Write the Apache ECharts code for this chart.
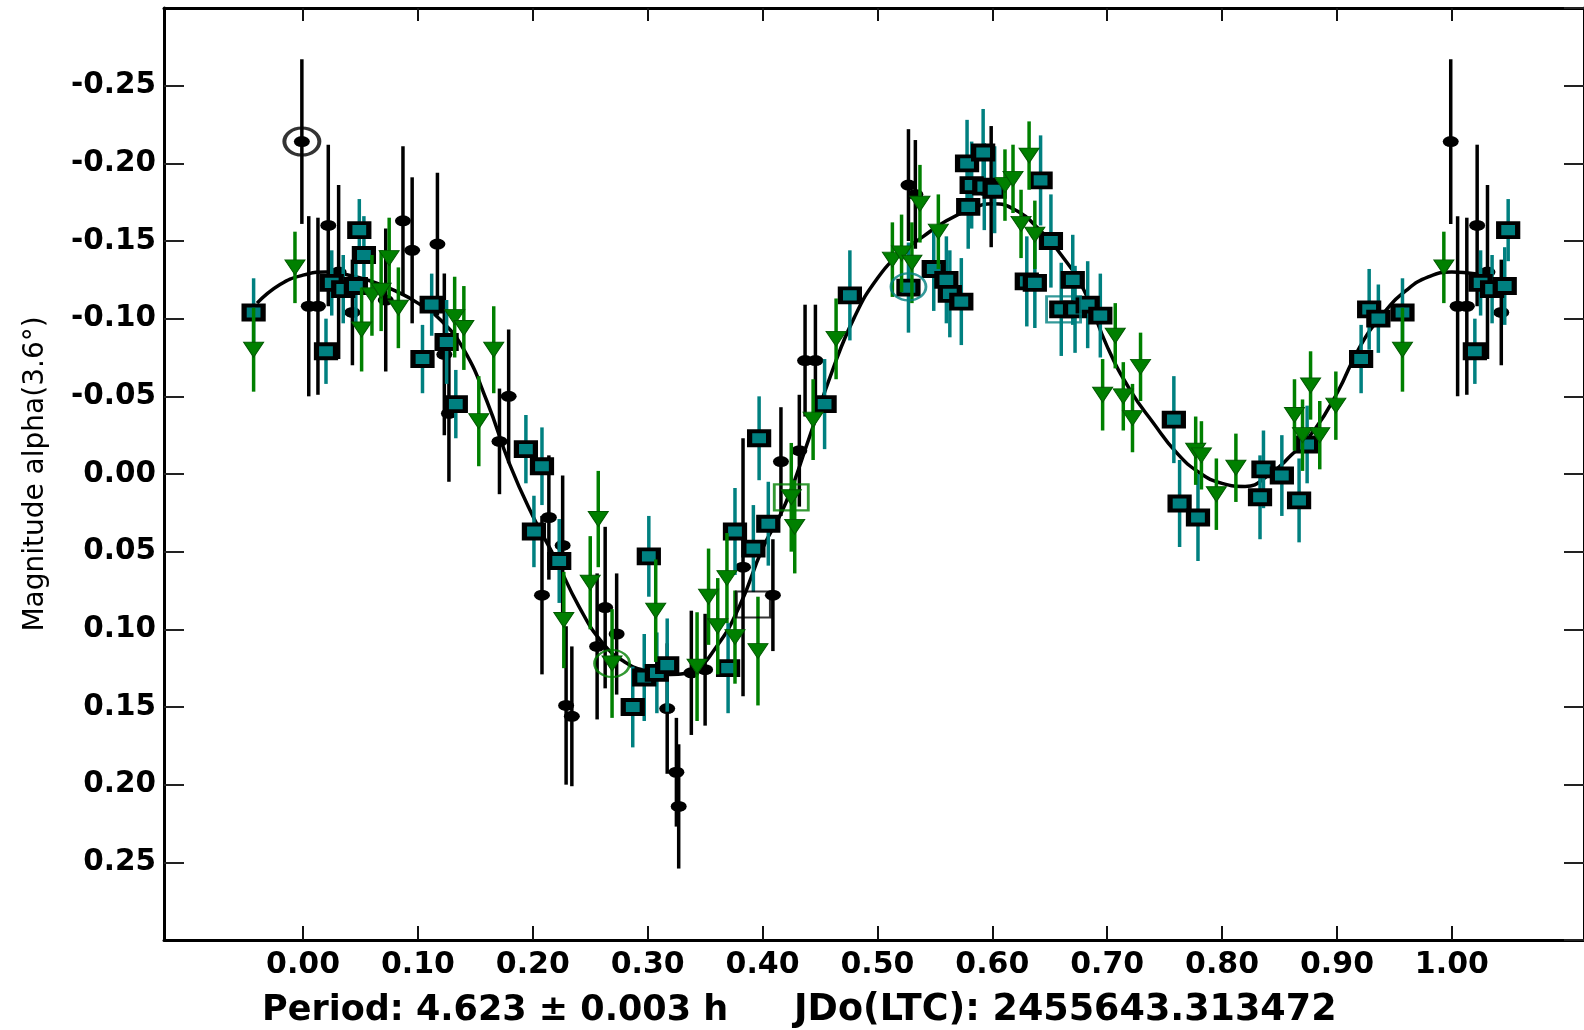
<!DOCTYPE html>
<html>
<head>
<meta charset="utf-8">
<script src="https://cdn.jsdelivr.net/npm/echarts@6/dist/echarts.min.js"></script>
<style>
html,body{margin:0;padding:0;background:#fff;}
#chart{width:1584px;height:1030px;}
</style>
</head>
<body>
<div id="chart"></div>
<script>
// ---------- DATA ----------
const xTickValues = [0.0, 0.1, 0.2, 0.3, 0.4, 0.5, 0.6, 0.7, 0.8, 0.9, 1.0];

// Session 1 (black dots): phase, magnitude, error
const blackPhase = [0.999, 0.005, 0.013, 0.022, 0.031, 0.043, 0.072, 0.087, 0.095, 0.117, 0.123, 0.127, 0.171, 0.179, 0.208, 0.214, 0.226, 0.229, 0.234, 0.256, 0.263, 0.273, 0.317, 0.325, 0.327, 0.338, 0.350, 0.383, 0.409, 0.416, 0.432, 0.437, 0.446, 0.527, 0.533, 0.599];
const blackMag   = [-0.214, -0.108, -0.108, -0.160, -0.130, -0.104, -0.112, -0.163, -0.144, -0.148, -0.077, -0.039, -0.021, -0.050, 0.078, 0.028, 0.046, 0.149, 0.156, 0.111, 0.086, 0.103, 0.151, 0.192, 0.214, 0.128, 0.126, 0.060, 0.078, -0.008, -0.015, -0.073, -0.073, -0.186, -0.180, -0.185];
const blackErr   = [0.053, 0.058, 0.057, 0.052, 0.056, 0.034, 0.046, 0.048, 0.047, 0.046, 0.052, 0.044, 0.034, 0.043, 0.051, 0.040, 0.045, 0.051, 0.045, 0.047, 0.052, 0.039, 0.042, 0.035, 0.040, 0.040, 0.036, 0.083, 0.036, 0.035, 0.036, 0.036, 0.036, 0.036, 0.035, 0.039];

// Session 2 (teal squares)
const tealPhase = [0.957, 0.020, 0.025, 0.035, 0.046, 0.049, 0.053, 0.104, 0.112, 0.125, 0.133, 0.194, 0.201, 0.208, 0.223, 0.287, 0.297, 0.301, 0.308, 0.317, 0.370, 0.376, 0.392, 0.397, 0.405, 0.454, 0.476, 0.527, 0.549, 0.560, 0.563, 0.573, 0.578, 0.579, 0.582, 0.592, 0.593, 0.602, 0.630, 0.637, 0.642, 0.651, 0.660, 0.670, 0.672, 0.683, 0.694, 0.758, 0.763, 0.779, 0.833, 0.836, 0.852, 0.867, 0.874, 0.921, 0.928, 0.936];
const tealMag   = [-0.104, -0.079, -0.123, -0.119, -0.121, -0.157, -0.141, -0.074, -0.109, -0.085, -0.045, -0.016, 0.037, -0.005, 0.056, 0.150, 0.131, 0.053, 0.128, 0.123, 0.125, 0.037, 0.048, -0.023, 0.032, -0.045, -0.115, -0.120, -0.132, -0.125, -0.116, -0.111, -0.200, -0.172, -0.186, -0.207, -0.185, -0.183, -0.124, -0.123, -0.189, -0.150, -0.106, -0.125, -0.106, -0.109, -0.102, -0.035, 0.019, 0.028, 0.015, -0.003, 0.001, 0.017, -0.019, -0.074, -0.106, -0.100];
const tealErr   = [0.022, 0.021, 0.021, 0.022, 0.025, 0.020, 0.025, 0.022, 0.020, 0.027, 0.022, 0.022, 0.023, 0.025, 0.027, 0.026, 0.028, 0.026, 0.026, 0.030, 0.029, 0.028, 0.028, 0.027, 0.027, 0.029, 0.029, 0.029, 0.027, 0.028, 0.028, 0.028, 0.028, 0.027, 0.028, 0.028, 0.028, 0.028, 0.029, 0.029, 0.029, 0.030, 0.030, 0.029, 0.028, 0.028, 0.027, 0.028, 0.028, 0.028, 0.027, 0.025, 0.026, 0.027, 0.025, 0.022, 0.026, 0.022];

// Session 3 (green triangles)
const greenPhase = [0.957, 0.993, 0.051, 0.060, 0.068, 0.075, 0.083, 0.132, 0.140, 0.153, 0.166, 0.227, 0.250, 0.257, 0.269, 0.307, 0.343, 0.353, 0.361, 0.369, 0.376, 0.396, 0.425, 0.428, 0.444, 0.464, 0.513, 0.521, 0.530, 0.537, 0.553, 0.611, 0.618, 0.625, 0.632, 0.637, 0.696, 0.707, 0.714, 0.722, 0.729, 0.777, 0.782, 0.795, 0.812, 0.863, 0.870, 0.877, 0.885, 0.899];
const greenMag   = [-0.080, -0.133, -0.093, -0.115, -0.118, -0.139, -0.107, -0.101, -0.094, -0.034, -0.080, 0.094, 0.070, 0.029, 0.122, 0.088, 0.124, 0.079, 0.098, 0.067, 0.105, 0.114, 0.015, 0.034, -0.035, -0.087, -0.138, -0.142, -0.136, -0.174, -0.156, -0.186, -0.190, -0.161, -0.205, -0.154, -0.051, -0.089, -0.050, -0.036, -0.069, -0.015, -0.012, 0.013, -0.004, -0.038, -0.025, -0.057, -0.025, -0.044];
const greenErr   = [0.027, 0.023, 0.027, 0.026, 0.026, 0.026, 0.026, 0.026, 0.027, 0.029, 0.028, 0.031, 0.030, 0.031, 0.035, 0.033, 0.035, 0.031, 0.031, 0.029, 0.030, 0.035, 0.035, 0.030, 0.026, 0.026, 0.024, 0.025, 0.026, 0.025, 0.024, 0.023, 0.022, 0.022, 0.022, 0.022, 0.023, 0.021, 0.022, 0.022, 0.022, 0.022, 0.022, 0.023, 0.022, 0.023, 0.023, 0.022, 0.022, 0.022];

// First point of each observing session (open markers)
const startPhase   = [-0.001, 0.269, 0.392, 0.425, 0.527, 0.662];
const startMag     = [-0.214, 0.122, 0.084, 0.015, -0.1205, -0.106];
const startSession = ['s1', 's2', 's3', 's4', 's5', 's6'];

// Fourier fit curve
const fitPhase = [-0.04, -0.02, 0.00, 0.02, 0.04, 0.06, 0.08, 0.10, 0.12, 0.14, 0.16, 0.18, 0.20, 0.22, 0.24, 0.26, 0.28, 0.30, 0.32, 0.34, 0.36, 0.38, 0.40, 0.42, 0.44, 0.46, 0.48, 0.50, 0.52, 0.54, 0.56, 0.58, 0.60, 0.62, 0.64, 0.66, 0.68, 0.70, 0.72, 0.74, 0.76, 0.78, 0.80, 0.82, 0.84, 0.86, 0.88, 0.90, 0.92, 0.94, 0.96, 0.98, 1.00, 1.02, 1.04];
const fitMag   = [-0.110, -0.122, -0.128, -0.130, -0.128, -0.124, -0.118, -0.110, -0.099, -0.080, -0.047, -0.006, 0.027, 0.055, 0.085, 0.108, 0.121, 0.127, 0.129, 0.126, 0.111, 0.085, 0.048, 0.019, -0.022, -0.065, -0.101, -0.126, -0.142, -0.153, -0.163, -0.170, -0.174, -0.170, -0.158, -0.141, -0.118, -0.082, -0.054, -0.033, -0.014, -0.001, 0.006, 0.008, 0.001, -0.012, -0.028, -0.052, -0.082, -0.103, -0.118, -0.127, -0.130, -0.129, -0.124];

const yAxisName = 'Magnitude alpha(3.6°)';
const periodText = 'Period: 4.623 ± 0.003 h';
const epochText = 'JDo(LTC): 2455643.313472';

// ---------- BUILD ----------
// phased light curve is shown from -0.05 to 1.05: points near the ends repeat
function phased(ph, mg, er) {
  const out = [];
  for (let i = 0; i < ph.length; i++) {
    out.push([ph[i], mg[i], er[i]]);
    if (ph[i] < 0.05) out.push([ph[i] + 1, mg[i], er[i]]);
    if (ph[i] > 0.95) out.push([ph[i] - 1, mg[i], er[i]]);
  }
  return out;
}
const blackData = phased(blackPhase, blackMag, blackErr);
const tealData = phased(tealPhase, tealMag, tealErr);
const greenData = phased(greenPhase, greenMag, greenErr);
const fitData = fitPhase.map((p, i) => [p, fitMag[i]]);

const sessionStyle = {
  s1: { symbol: 'circle', color: '#000000', width: 3.5 },
  s2: { symbol: 'circle', color: '#008000', width: 2.5 },
  s3: { symbol: 'rect', color: '#000000', width: 2.5 },
  s4: { symbol: 'rect', color: '#008000', width: 2.5 },
  s5: { symbol: 'circle', color: '#008080', width: 2.5 },
  s6: { symbol: 'rect', color: '#008080', width: 2.5 }
};
const startData = startPhase.map((p, i) => {
  const st = sessionStyle[startSession[i]];
  return {
    value: [p, startMag[i]],
    symbol: st.symbol,
    symbolSize: st.symbol === 'circle' ? [35, 27] : [34, 26],
    itemStyle: { color: 'rgba(0,0,0,0)', borderColor: st.color, borderWidth: st.width }
  };
});

function errBars(color, width) {
  return function (params, api) {
    const x = api.value(0), y = api.value(1), e = api.value(2);
    const a = api.coord([x, y - e]);
    const b = api.coord([x, y + e]);
    return {
      type: 'line',
      shape: { x1: a[0], y1: a[1], x2: b[0], y2: b[1] },
      style: { stroke: color, lineWidth: width }
    };
  };
}

const FONT = 'DejaVu Sans';
const X_MIN = -0.121, X_MAX = 1.115;

const chart = echarts.init(document.getElementById('chart'));
chart.setOption({
  animation: false,
  backgroundColor: '#ffffff',
  title: [
    { text: periodText, left: 262, top: 993, padding: 0,
      textStyle: { fontFamily: FONT, fontWeight: 'bold', fontSize: 35, color: '#000' } },
    { text: epochText, left: 794, top: 992, padding: 0,
      textStyle: { fontFamily: FONT, fontWeight: 'bold', fontSize: 36.5, color: '#000' } }
  ],
  grid: { left: 164, top: 8, width: 1425, height: 932, containLabel: false },
  xAxis: [
    {
      type: 'value', min: X_MIN, max: X_MAX, position: 'bottom',
      axisLine: { show: true, onZero: false, lineStyle: { color: '#000', width: 3 } },
      axisTick: { show: true, inside: true, length: 14, customValues: xTickValues,
        lineStyle: { color: '#111', width: 2 } },
      axisLabel: { show: true, customValues: xTickValues, margin: 10,
        formatter: v => v.toFixed(2),
        fontFamily: FONT, fontWeight: 'bold', fontSize: 30, color: '#000' },
      splitLine: { show: false }
    },
    {
      type: 'value', min: X_MIN, max: X_MAX, position: 'top',
      axisLine: { show: true, onZero: false, lineStyle: { color: '#000', width: 3 } },
      axisTick: { show: true, inside: true, length: 13, customValues: xTickValues,
        lineStyle: { color: '#111', width: 2 } },
      axisLabel: { show: false },
      splitLine: { show: false }
    }
  ],
  yAxis: [
    {
      type: 'value', min: -0.3, max: 0.3, interval: 0.05, inverse: true, position: 'left',
      axisLine: { show: true, onZero: false, lineStyle: { color: '#000', width: 3 } },
      axisTick: { show: true, inside: true, length: 20, lineStyle: { color: '#222', width: 2 } },
      axisLabel: { show: true, showMinLabel: false, showMaxLabel: false, margin: 8,
        formatter: v => (Math.abs(v) < 1e-9 ? '0.00' : v.toFixed(2)),
        fontFamily: FONT, fontWeight: 'bold', fontSize: 29.5, color: '#000' },
      splitLine: { show: false },
      name: yAxisName, nameLocation: 'middle', nameRotate: 90, nameGap: 114,
      nameTextStyle: { fontFamily: FONT, fontSize: 28, color: '#000' }
    },
    {
      type: 'value', min: -0.3, max: 0.3, interval: 0.05, inverse: true, position: 'right',
      axisLine: { show: true, onZero: false, lineStyle: { color: '#000', width: 3 } },
      axisTick: { show: true, inside: true, length: 20, lineStyle: { color: '#222', width: 2 } },
      axisLabel: { show: false },
      splitLine: { show: false }
    }
  ],
  series: [
    {
      name: 'fit', type: 'line', data: fitData, smooth: true, showSymbol: false,
      lineStyle: { color: '#000', width: 3.5 }, z: 2
    },
    {
      name: 'black err', type: 'custom', data: blackData, renderItem: errBars('#000000', 3.5),
      dimensions: ['x', 'y', 'e'], encode: { x: 0, y: 1 }, z: 3
    },
    {
      name: 'black', type: 'scatter', data: blackData, symbol: 'circle', symbolSize: [16, 11],
      itemStyle: { color: '#000000', opacity: 1 }, z: 3
    },
    {
      name: 'teal err', type: 'custom', data: tealData, renderItem: errBars('#008080', 3.5),
      dimensions: ['x', 'y', 'e'], encode: { x: 0, y: 1 }, z: 4
    },
    {
      name: 'teal', type: 'scatter', data: tealData, symbol: 'rect', symbolSize: [19, 14],
      itemStyle: { color: '#008080', borderColor: '#000000', borderWidth: 4.5, opacity: 1 }, z: 4
    },
    {
      name: 'green err', type: 'custom', data: greenData, renderItem: errBars('#008000', 3.5),
      dimensions: ['x', 'y', 'e'], encode: { x: 0, y: 1 }, z: 5
    },
    {
      name: 'green', type: 'scatter', data: greenData, symbol: 'triangle', symbolRotate: 180,
      symbolSize: [20, 15],
      itemStyle: { color: '#008000', borderColor: '#005a00', borderWidth: 1, opacity: 1 }, z: 5
    },
    {
      name: 'session start', type: 'scatter', data: startData, z: 6
    }
  ]
});
</script>
</body>
</html>
